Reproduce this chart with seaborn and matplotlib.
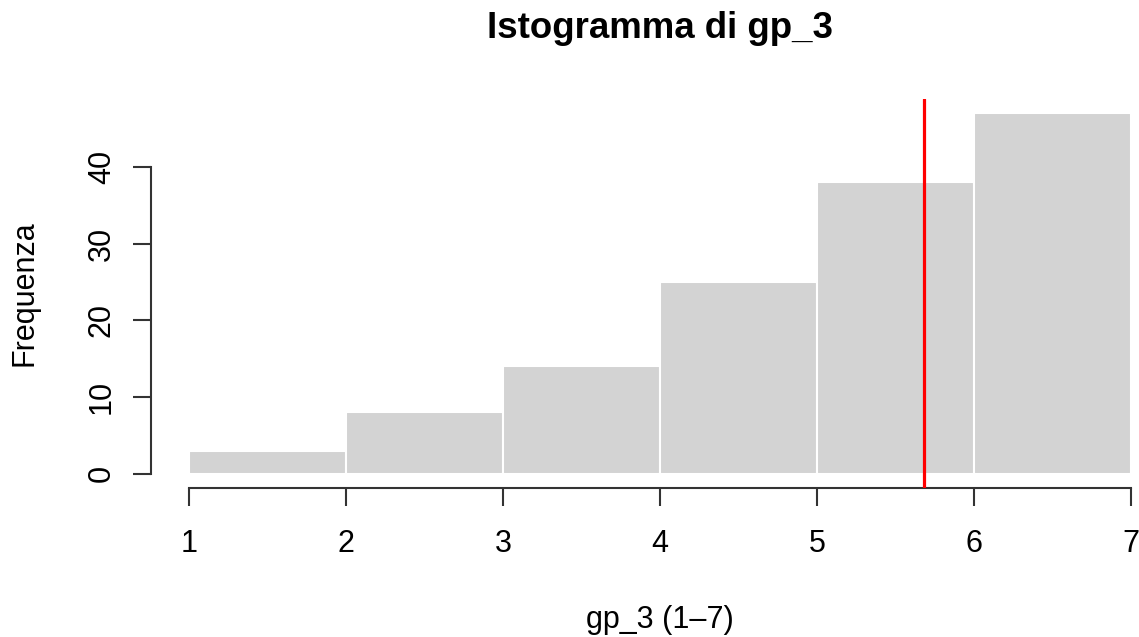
import matplotlib
matplotlib.use("Agg")
import matplotlib.pyplot as plt
import seaborn as sns
import numpy as np
import pandas as pd

# Histogram of gp_3 scores (scale 1-7): one bin per unit interval
bin_edges = [1, 2, 3, 4, 5, 6, 7]
bin_counts = [3, 8, 14, 25, 38, 47]
mean_value = 5.68

y_ticks = [0, 10, 20, 30, 40]
x_ticks = [1, 2, 3, 4, 5, 6, 7]

title_text = "Istogramma di gp_3"
x_label = "gp_3 (1–7)"
y_label = "Frequenza"

sns.set_style("white")
plt.rcParams["font.family"] = ["Liberation Sans", "DejaVu Sans"]
plt.rcParams["text.color"] = "black"
plt.rcParams["axes.labelcolor"] = "black"

W, H = 1139, 637
fig = plt.figure(figsize=(W / 100, H / 100), dpi=100)

# plot region in pixels (R-style, with 4% padding around the data range)
left_px, right_px, top_px, bottom_px = 151, 1169, 99, 488
ax = fig.add_axes([left_px / W, (H - bottom_px) / H,
                   (right_px - left_px) / W, (bottom_px - top_px) / H])

df = pd.DataFrame({
    "centre": [(a + b) / 2 for a, b in zip(bin_edges[:-1], bin_edges[1:])],
    "count": bin_counts,
})
sns.histplot(data=df, x="centre", weights="count", bins=bin_edges,
             color="#D3D3D3", edgecolor="white", linewidth=1.5,
             alpha=1, ax=ax)

ax.axvline(mean_value, color="#FF0000", lw=2.3, zorder=5)

ax.set_xlim(bin_edges[0] - 0.04 * (bin_edges[-1] - bin_edges[0]),
            bin_edges[-1] + 0.04 * (bin_edges[-1] - bin_edges[0]))
ymax = max(bin_counts)
ax.set_ylim(-0.04 * ymax, ymax * 1.04)

ax.set_xticks(x_ticks)
ax.set_yticks(y_ticks)
ax.set_xticklabels([str(t) for t in x_ticks])
ax.set_yticklabels([str(t) for t in y_ticks], rotation=90, va="center")

for side in ["top", "right"]:
    ax.spines[side].set_visible(False)
axis_col = "#333333"
ax.spines["left"].set_bounds(y_ticks[0], y_ticks[-1])
ax.spines["bottom"].set_bounds(x_ticks[0], x_ticks[-1])
for side in ["left", "bottom"]:
    ax.spines[side].set_color(axis_col)
    ax.spines[side].set_linewidth(1.5)

ax.tick_params(axis="both", direction="out", length=13, width=1.5,
               color=axis_col, labelsize=22, labelcolor="black",
               bottom=True, left=True)
ax.tick_params(axis="x", pad=16.5)
ax.tick_params(axis="y", pad=11.5)

ax.set_xlabel(x_label, fontsize=22, va="center", color="black")
ax.set_ylabel(y_label, fontsize=22, va="center", color="black")
ax.xaxis.set_label_coords(0.5, (H - 620 - (H - bottom_px)) / (bottom_px - top_px))
ax.yaxis.set_label_coords((25 - left_px) / (right_px - left_px), 0.5)

ax.set_title(title_text, fontsize=26.4, fontweight="bold", va="center",
             color="black", pad=0,
             y=((H - 29) - (H - bottom_px)) / (bottom_px - top_px))

fig.savefig("out.png", dpi=100, facecolor="white")
